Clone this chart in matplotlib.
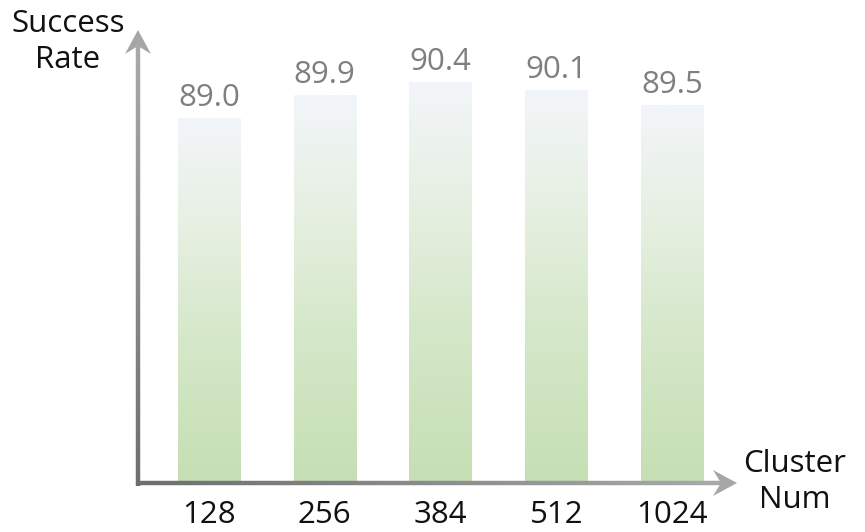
import numpy as np
import matplotlib
matplotlib.use("Agg")
import matplotlib.pyplot as plt
from matplotlib.patches import Polygon
from matplotlib.collections import LineCollection
from matplotlib.colors import LinearSegmentedColormap

categories = ["128", "256", "384", "512", "1024"]
values = [89.0, 89.9, 90.4, 90.1, 89.5]

W, H = 865, 532
fig = plt.figure(figsize=(W / 100, H / 100), dpi=100)
ax_left, ax_right, ax_bottom, ax_top = 138, 735, 483, 30
ax = fig.add_axes([ax_left / W, (H - ax_bottom) / H, (ax_right - ax_left) / W, (ax_bottom - ax_top) / H])
ymin, ymax = 74.8, 92.43
ax.set_xlim(-0.613, 4.544)
ax.set_ylim(ymin, ymax)
for s in ax.spines.values():
    s.set_visible(False)
ax.set_yticks([])

font = "Open Sans"
x = np.arange(len(categories))
bw = 0.536
cmap = LinearSegmentedColormap.from_list("g", [(0, "#c5dfb3"), (0.4, "#d6e8ca"), (0.75, "#e9f1e6"), (1, "#f2f5f9")])
grad = np.linspace(0, 1, 256).reshape(-1, 1)
bars = ax.bar(x, [v - ymin for v in values], bottom=ymin, width=bw, color="none", edgecolor="none")
for b, v in zip(bars, values):
    x0 = b.get_x()
    im = ax.imshow(grad, cmap=cmap, origin="lower", aspect="auto",
                   extent=[x0, x0 + bw, ymin, v], zorder=1, interpolation="bilinear")
    im.set_clip_path(b)
    ax.text(b.get_x() + bw / 2, v + 0.2, f"{v:.1f}", ha="center", va="bottom",
            fontsize=22.5, color="#7f7f7f", family=font)

ax.set_xticks(x)
ax.set_xticklabels(categories, fontsize=22.5, family=font, color="#111111")
ax.tick_params(axis="x", length=0, pad=12)

n = 200
def fx(px): return px / W
def fy(py): return (H - py) / H

def grad_line(p0, p1, c0, c1, lw):
    xs = np.linspace(p0[0], p1[0], n + 1)
    ys = np.linspace(p0[1], p1[1], n + 1)
    segs = [[(xs[i], ys[i]), (xs[i + 1], ys[i + 1])] for i in range(n)]
    c0 = np.array(matplotlib.colors.to_rgb(c0)); c1 = np.array(matplotlib.colors.to_rgb(c1))
    cols = [c0 + (c1 - c0) * t for t in np.linspace(0, 1, n)]
    lc = LineCollection(segs, colors=cols, linewidths=lw, transform=fig.transFigure, capstyle="butt")
    fig.add_artist(lc)

grad_line((fx(138), fy(486)), (fx(138), fy(45)), "#6e6e6e", "#a9a9a9", 3.2)
grad_line((fx(136), fy(483)), (fx(722), fy(483)), "#6e6e6e", "#a9a9a9", 3.2)
up = Polygon([(fx(138), fy(30)), (fx(125), fy(54)), (fx(138), fy(46)), (fx(151), fy(54))],
             closed=True, transform=fig.transFigure, facecolor="#a6a6a6", edgecolor="none")
fig.add_artist(up)
rt = Polygon([(fx(737), fy(483)), (fx(713), fy(470)), (fx(721), fy(483)), (fx(713), fy(496))],
             closed=True, transform=fig.transFigure, facecolor="#a6a6a6", edgecolor="none")
fig.add_artist(rt)

fig.text(fx(68), fy(42), "Success\nRate", ha="center", va="center", fontsize=22.5,
         family=font, color="#111111", linespacing=1.3)
fig.text(fx(795), fy(482), "Cluster\nNum", ha="center", va="center", fontsize=22.5,
         family=font, color="#111111", linespacing=1.3)

fig.savefig("out.png", dpi=100)
